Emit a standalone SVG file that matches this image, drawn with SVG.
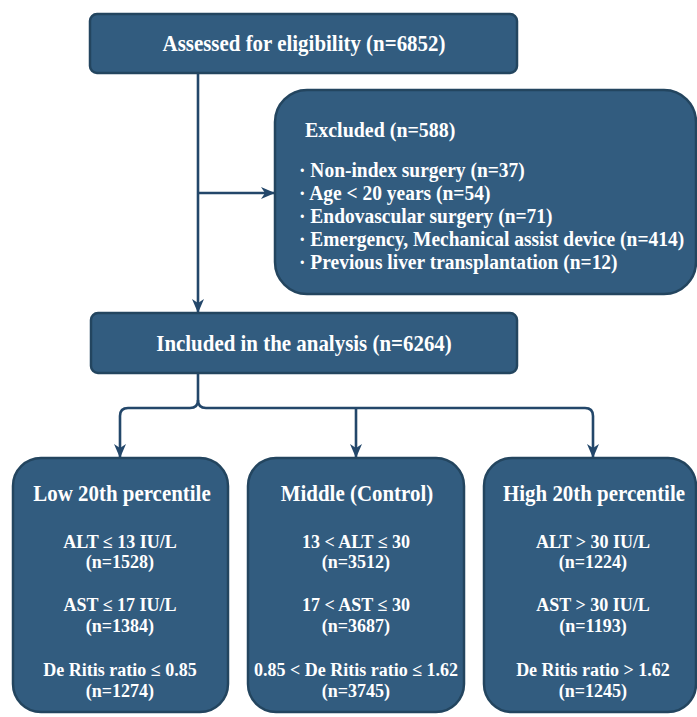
<svg xmlns="http://www.w3.org/2000/svg" width="697" height="717" viewBox="0 0 697 717">
<defs>
<style>
.box{fill:#325c7f;stroke:#23455f;stroke-width:2.5}
.t{font-family:"Liberation Serif","Times New Roman",serif;font-weight:bold;fill:#ffffff}
.h{font-size:22.5px;text-anchor:middle}
.d{font-size:18px;text-anchor:middle}
.ex{font-size:20.5px}
.line{fill:none;stroke:#23476a;stroke-width:2.6}
</style>
<marker id="arr" viewBox="0 0 14 14" refX="13" refY="7" markerWidth="14" markerHeight="14" markerUnits="userSpaceOnUse" orient="auto">
<path d="M0,1 L14,7 L0,13 L4,7 z" fill="#23476a"/>
</marker>
</defs>
<rect width="697" height="717" fill="#ffffff"/>
<g id="connectors">
<path class="line" d="M198,73 V312" marker-end="url(#arr)"/>
<path class="line" d="M198,193 H274" marker-end="url(#arr)"/>
<path class="line" d="M198,373 V400 Q198,408 190,408 H128 Q120,408 120,416 V457" marker-end="url(#arr)"/>
<path class="line" d="M198,400 Q198,408 206,408 H585 Q593,408 593,416 V457" marker-end="url(#arr)"/>
<path class="line" d="M356,408 V457" marker-end="url(#arr)"/>
</g>
<g id="assessed">
<rect class="box" x="90" y="14" width="427" height="59" rx="7"/>
<text class="t h" transform="translate(304,51) scale(0.93,1)">Assessed for eligibility (n=6852)</text>
</g>
<g id="excluded">
<rect class="box" x="275" y="90" width="421" height="204" rx="32"/>
<text class="t" font-size="21" transform="translate(305,137) scale(0.95,1)">Excluded (n=588)</text>
<text class="t ex" transform="translate(299,177) scale(0.95,1)">· Non-index surgery (n=37)</text>
<text class="t ex" transform="translate(299,200) scale(0.95,1)">· Age &lt; 20 years (n=54)</text>
<text class="t ex" transform="translate(299,223) scale(0.95,1)">· Endovascular surgery (n=71)</text>
<text class="t ex" transform="translate(299,246) scale(0.95,1)">· Emergency, Mechanical assist device (n=414)</text>
<text class="t ex" transform="translate(299,269) scale(0.95,1)">· Previous liver transplantation (n=12)</text>
</g>
<g id="included">
<rect class="box" x="91" y="313" width="426" height="60" rx="7"/>
<text class="t h" transform="translate(304,351) scale(0.93,1)">Included in the analysis (n=6264)</text>
</g>
<g id="low">
<rect class="box" x="13" y="458" width="215" height="254" rx="28"/>
<text class="t h" transform="translate(122,501) scale(0.93,1)">Low 20th percentile</text>
<text class="t d" x="120" y="548">ALT ≤ 13 IU/L</text>
<text class="t d" x="120" y="568">(n=1528)</text>
<text class="t d" x="120" y="611">AST ≤ 17 IU/L</text>
<text class="t d" x="120" y="632">(n=1384)</text>
<text class="t d" x="120" y="676">De Ritis ratio ≤ 0.85</text>
<text class="t d" x="120" y="697">(n=1274)</text>
</g>
<g id="middle">
<rect class="box" x="248" y="458" width="216" height="254" rx="28"/>
<text class="t h" transform="translate(357,501) scale(0.93,1)">Middle (Control)</text>
<text class="t d" x="356" y="548">13 &lt; ALT ≤ 30</text>
<text class="t d" x="356" y="568">(n=3512)</text>
<text class="t d" x="356" y="611">17 &lt; AST ≤ 30</text>
<text class="t d" x="356" y="632">(n=3687)</text>
<text class="t d" x="356" y="676">0.85 &lt; De Ritis ratio ≤ 1.62</text>
<text class="t d" x="356" y="697">(n=3745)</text>
</g>
<g id="high">
<rect class="box" x="484" y="458" width="212" height="254" rx="28"/>
<text class="t h" transform="translate(594,501) scale(0.93,1)">High 20th percentile</text>
<text class="t d" x="593" y="548">ALT &gt; 30 IU/L</text>
<text class="t d" x="593" y="568">(n=1224)</text>
<text class="t d" x="593" y="611">AST &gt; 30 IU/L</text>
<text class="t d" x="593" y="632">(n=1193)</text>
<text class="t d" x="593" y="676">De Ritis ratio &gt; 1.62</text>
<text class="t d" x="593" y="697">(n=1245)</text>
</g>
</svg>
